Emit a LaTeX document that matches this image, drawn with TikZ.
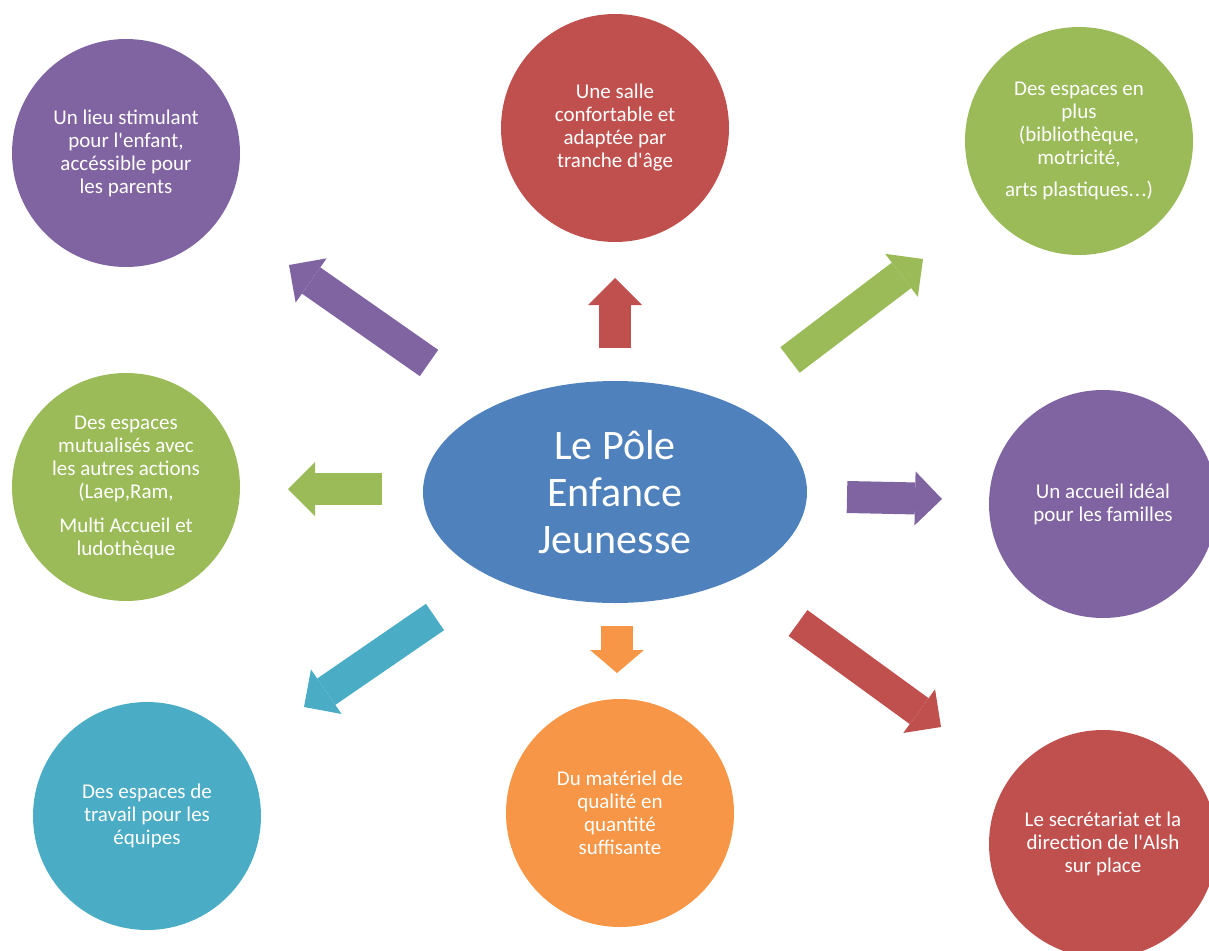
\documentclass[tikz,border=0pt]{standalone}
\usepackage{fontspec}
\setmainfont{Carlito}[Ligatures=TeXOff]
\usetikzlibrary{shapes.geometric,arrows.meta}
\definecolor{mauve}{HTML}{8064A2}
\definecolor{brique}{HTML}{C0504D}
\definecolor{olive}{HTML}{9BBB59}
\definecolor{turquoise}{HTML}{4BACC6}
\definecolor{orangeclair}{HTML}{F79646}
\definecolor{bleu}{HTML}{4F81BD}
\tikzset{
  bulle/.style={circle, minimum size=228pt, inner sep=0pt, text=white, align=center,
    font=\fontsize{21}{23}\selectfont},
  pole/.style={ellipse, fill=bleu, minimum width=384pt, minimum height=222pt, inner sep=0pt,
    text=white, align=center, font=\fontsize{42}{47}\selectfont},
  fleche/.style={line width=32pt, -{Triangle[length=27pt,width=54pt,line width=0pt]}}
}
\begin{document}
\begin{tikzpicture}[x=1pt,y=-1pt]
\useasboundingbox (0,0) rectangle (1209,950);
% centre
\node[pole] (pole) at (615,492) {Le Pôle\\Enfance\\Jeunesse};
% bulles
\node[bulle, fill=mauve] (lieu) at (126,153) {Un lieu stimulant\\pour l'enfant,\\accéssible pour\\les parents};
\node[bulle, fill=brique] (salle) at (615,128) {Une salle\\confortable et\\adaptée par\\tranche d'âge};
\node[bulle, fill=olive] (plus) at (1079,141) {Des espaces en\\plus\\(bibliothèque,\\motricité,\\[9pt]arts plastiques.\kern1pt.\kern1pt.)};
\node[bulle, fill=olive] (mutu) at (126,487) {Des espaces\\mutualisés avec\\les autres actions\\(Laep,Ram,\\[11pt]Multi Accueil et\\ludothèque};
\node[bulle, fill=mauve] (accueil) at (1103,504) {Un accueil idéal\\pour les familles};
\node[bulle, fill=turquoise] (travail) at (147,816) {Des espaces de\\travail pour les\\équipes};
\node[bulle, fill=orangeclair] (materiel) at (620,813) {Du matériel de\\qualité en\\quantité\\suffisante};
\node[bulle, fill=brique] (secret) at (1103,844) {Le secrétariat et la\\direction de l'Alsh\\sur place};
% fleches
\coordinate (d1) at (429,363); \coordinate (f1) at (289,265);
\coordinate (d2) at (615,348); \coordinate (f2) at (615,278);
\coordinate (d3) at (790,360); \coordinate (f3) at (923,259);
\coordinate (d4) at (382,489); \coordinate (f4) at (288,489);
\coordinate (d5) at (847,497); \coordinate (f5) at (942,499);
\coordinate (d6) at (435,617); \coordinate (f6) at (304,707);
\coordinate (d7) at (617,626); \coordinate (f7) at (617,673);
\coordinate (d8) at (798,623); \coordinate (f8) at (941,727);
\draw[fleche, mauve] (d1) -- (f1);
\draw[fleche, brique] (d2) -- (f2);
\draw[fleche, olive] (d3) -- (f3);
\draw[fleche, olive] (d4) -- (f4);
\draw[fleche, mauve] (d5) -- (f5);
\draw[fleche, turquoise] (d6) -- (f6);
\draw[fleche, orangeclair, -{Triangle[length=23pt,width=54pt,line width=0pt]}] (d7) -- (f7);
\draw[fleche, brique] (d8) -- (f8);
\end{tikzpicture}
\end{document}
